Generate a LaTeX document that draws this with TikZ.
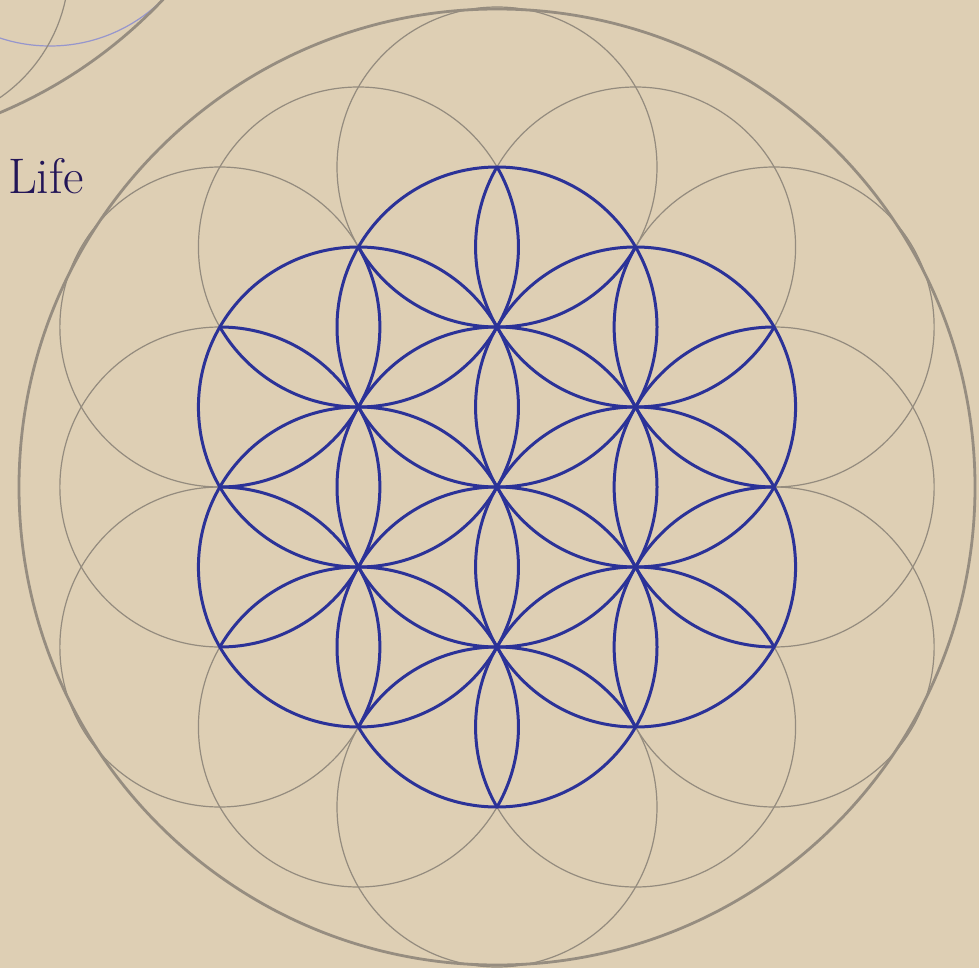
\documentclass[tikz,border=0pt]{standalone}
\usetikzlibrary{calc}
\definecolor{bg}{RGB}{222,207,180}
\definecolor{flowerblue}{RGB}{43,50,152}
\definecolor{thingray}{RGB}{148,139,126}
\definecolor{rimgray}{RGB}{150,141,128}
\definecolor{lav}{RGB}{150,150,205}
\definecolor{lifeink}{RGB}{35,22,88}
\begin{document}
\begin{tikzpicture}[x=1pt,y=-1pt,
  grayline/.style={draw=thingray,line width=1.2pt},
  rimline/.style={draw=rimgray,line width=2.8pt},
  blueline/.style={draw=flowerblue,line width=3pt},
  lavline/.style={draw=lav,line width=1.2pt}]
\fill[bg] (0,0) rectangle (979,968);
\useasboundingbox (0,0) rectangle (979,968);
\coordinate (O) at (497,487);
\begin{scope}
  \clip (0,0) rectangle (979,968);
  % partial neighbouring figure, top left
  \draw[lavline] (50,-114) circle (160pt);
  \draw[grayline] (-91,-34) circle (160pt);
  \draw[rimline] (-186,-330) circle (480pt);
  % outer ring of the flower in grey
  \foreach \a in {90,150,...,420} {
    \draw[grayline] ($(O)+(\a:320)$) circle (160pt);
    \draw[grayline] ($(O)+(\a-90:277.13)$) circle (160pt);
  }
  \draw[rimline] (O) circle (478pt);
\end{scope}
% blue flower, clipped to the union of the six first-ring circles
\begin{scope}
  \clip \foreach \a in {90,150,...,420} {($(O)+(\a:160)$) circle (160pt)};
  \draw[blueline] (O) circle (160pt);
  \foreach \a in {90,150,...,420} {
    \draw[blueline] ($(O)+(\a:320)$) circle (160pt);
    \draw[blueline] ($(O)+(\a-90:277.13)$) circle (160pt);
  }
\end{scope}
\foreach \a in {90,150,...,420} {
  \draw[blueline] ($(O)+(\a:160)$) circle (160pt);
}
\node[text=lifeink, anchor=base west, inner sep=0pt,
      font=\fontsize{50}{50}\selectfont] (life) at (8,194) {Life};
\end{tikzpicture}
\end{document}
